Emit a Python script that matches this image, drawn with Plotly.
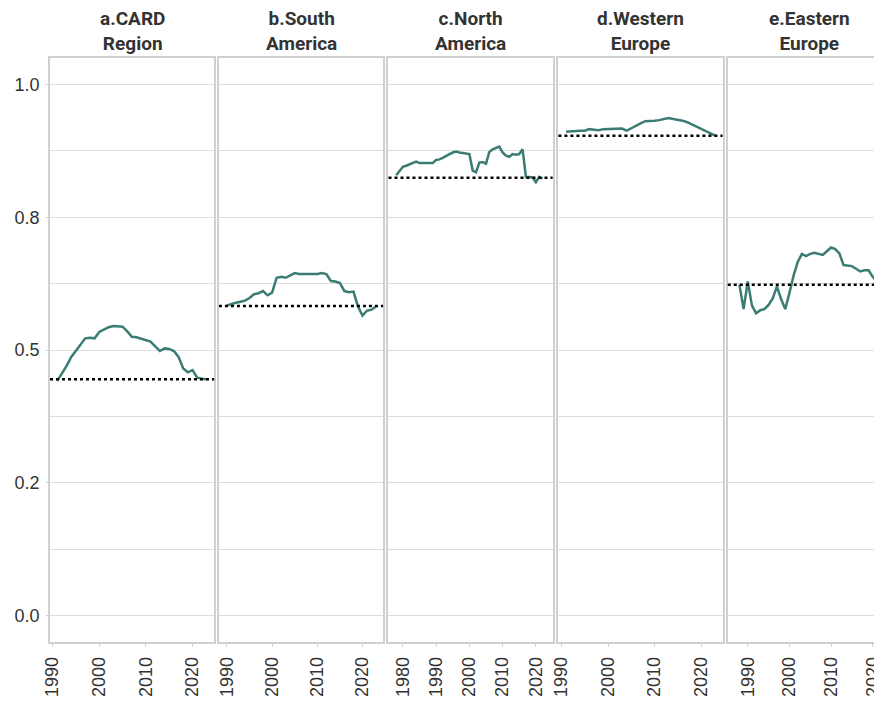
import plotly.graph_objects as go
from plotly.subplots import make_subplots

# ---------------- data ----------------
titles = ["a.CARD<br>Region", "b.South<br>America", "c.North<br>America",
          "d.Western<br>Europe", "e.Eastern<br>Europe"]

years_a = list(range(1991, 2024))
vals_a = [0.442, 0.455, 0.470, 0.487, 0.499, 0.512, 0.522, 0.523, 0.522, 0.534,
          0.538, 0.543, 0.545, 0.545, 0.544, 0.535, 0.525, 0.524, 0.521, 0.519,
          0.516, 0.507, 0.498, 0.503, 0.502, 0.498, 0.487, 0.465, 0.458, 0.462,
          0.448, 0.446, 0.445]

years_b = list(range(1990, 2024))
vals_b = [0.584, 0.587, 0.589, 0.591, 0.593, 0.598, 0.605, 0.607, 0.611, 0.603,
          0.608, 0.636, 0.638, 0.636, 0.641, 0.645, 0.643, 0.643, 0.643, 0.643,
          0.643, 0.645, 0.643, 0.630, 0.629, 0.626, 0.611, 0.609, 0.610, 0.582,
          0.565, 0.574, 0.576, 0.582]

years_c = list(range(1978, 2023))
vals_c = [0.829, 0.838, 0.845, 0.847, 0.850, 0.852, 0.855, 0.852, 0.852, 0.852,
          0.852, 0.852, 0.858, 0.859, 0.862, 0.866, 0.869, 0.872, 0.874, 0.872,
          0.871, 0.870, 0.869, 0.838, 0.835, 0.853, 0.854, 0.851, 0.873, 0.878,
          0.880, 0.883, 0.872, 0.866, 0.864, 0.869, 0.868, 0.869, 0.878, 0.826,
          0.826, 0.825, 0.816, 0.826, 0.823]

years_d = list(range(1991, 2024))
vals_d = [0.911, 0.912, 0.913, 0.913, 0.913, 0.916, 0.915, 0.914, 0.916, 0.916,
          0.916, 0.916, 0.917, 0.913, 0.918, 0.922, 0.927, 0.931, 0.931, 0.932,
          0.933, 0.935, 0.937, 0.935, 0.934, 0.932, 0.929, 0.925, 0.920, 0.916,
          0.912, 0.908, 0.904]

years_e = list(range(1988, 2024))
vals_e = [0.623, 0.577, 0.629, 0.584, 0.569, 0.575, 0.577, 0.585, 0.597, 0.620,
          0.596, 0.577, 0.607, 0.640, 0.666, 0.681, 0.677, 0.681, 0.683, 0.681,
          0.679, 0.686, 0.693, 0.690, 0.682, 0.660, 0.659, 0.658, 0.653, 0.648,
          0.650, 0.650, 0.638, 0.629, 0.630, 0.630]

baselines = [0.445, 0.583, 0.8245, 0.9035, 0.623]

y_tickvals = [0.0, 0.25, 0.5, 0.75, 1.0]
y_ticktext = ["0.0", "0.2", "0.5", "0.8", "1.0"]

series = [(years_a, vals_a), (years_b, vals_b), (years_c, vals_c),
          (years_d, vals_d), (years_e, vals_e)]

# ---------------- style / layout ----------------
# page body has an 8px margin, so figure coordinates are offset by 8px
W, H = 874, 696
ML, MR, MT, MB = 41.7, 0, 50.3, 61.7
panel_left_px = [41.7, 210.7, 380.3, 550.3, 719.7]
panel_w_px = 164.2
x_ranges = [[1989.44, 2024.63], [1988.24, 2024.55], [1975.68, 2025.03],
            [1989.36, 2024.58], [1985.2, 2022.23]]

TEAL = "#3b7d74"
FRAME = "#d0d0d0"
GRID = "#dddddd"
TXT = "#333333"
TICKFONT = dict(family="Liberation Sans, Arial, sans-serif", size=18, color=TXT)

fig = make_subplots(rows=1, cols=5, shared_yaxes=True)

for i, (xs, ys) in enumerate(series):
    fig.add_trace(go.Scatter(x=xs, y=ys, mode="lines",
                             line=dict(color=TEAL, width=2.5),
                             showlegend=False, hoverinfo="x+y"),
                  row=1, col=i + 1)
    fig.add_hline(y=baselines[i], line=dict(color="black", width=2.5, dash="dot"),
                  row=1, col=i + 1, layer="above")

pw = W - ML - MR
for i in range(5):
    l = max(0.0, (panel_left_px[i] - ML) / pw)
    r = min(1.0, (panel_left_px[i] + panel_w_px - ML) / pw)
    sfx = "" if i == 0 else str(i + 1)
    fig.layout["xaxis" + sfx].update(
        domain=[l, r], range=x_ranges[i],
        tickmode="linear", tick0=2000, dtick=10,
        ticks="outside", ticklen=3, tickcolor=FRAME, tickwidth=1,
        tickangle=-90, tickfont=TICKFONT, ticklabelstandoff=3,
        ticklabeloverflow="allow",
        showgrid=False, zeroline=False,
        showline=True, linecolor=FRAME, linewidth=1.5, mirror=True,
    )
    fig.layout["yaxis" + sfx].update(
        range=[-0.05, 1.05], tickmode="array",
        tickvals=y_tickvals, ticktext=y_ticktext,
        showgrid=True, gridcolor=GRID, gridwidth=1,
        minor=dict(tick0=0, dtick=0.125, showgrid=True, gridcolor=GRID, gridwidth=1, ticks=""),
        zeroline=False,
        showline=True, linecolor=FRAME, linewidth=1.5, mirror=(i < 4),
        showticklabels=(i == 0),
        ticks="outside" if i == 0 else "", ticklen=2, tickcolor=FRAME,
        tickfont=TICKFONT, ticklabelstandoff=3,
    )
    fig.add_annotation(text="<b>" + titles[i] + "</b>", xref="paper", yref="paper",
                       x=(l + (panel_left_px[i] + panel_w_px - ML) / pw) / 2,
                       y=1, xanchor="center", yanchor="bottom", yshift=1,
                       showarrow=False, align="center",
                       font=dict(family="Roboto, sans-serif", size=19, color=TXT))

fig.update_layout(
    width=W, height=H,
    margin=dict(l=ML, r=MR, t=MT, b=MB, pad=0),
    plot_bgcolor="white", paper_bgcolor="white",
    showlegend=False,
)

fig.write_html("out.html")
